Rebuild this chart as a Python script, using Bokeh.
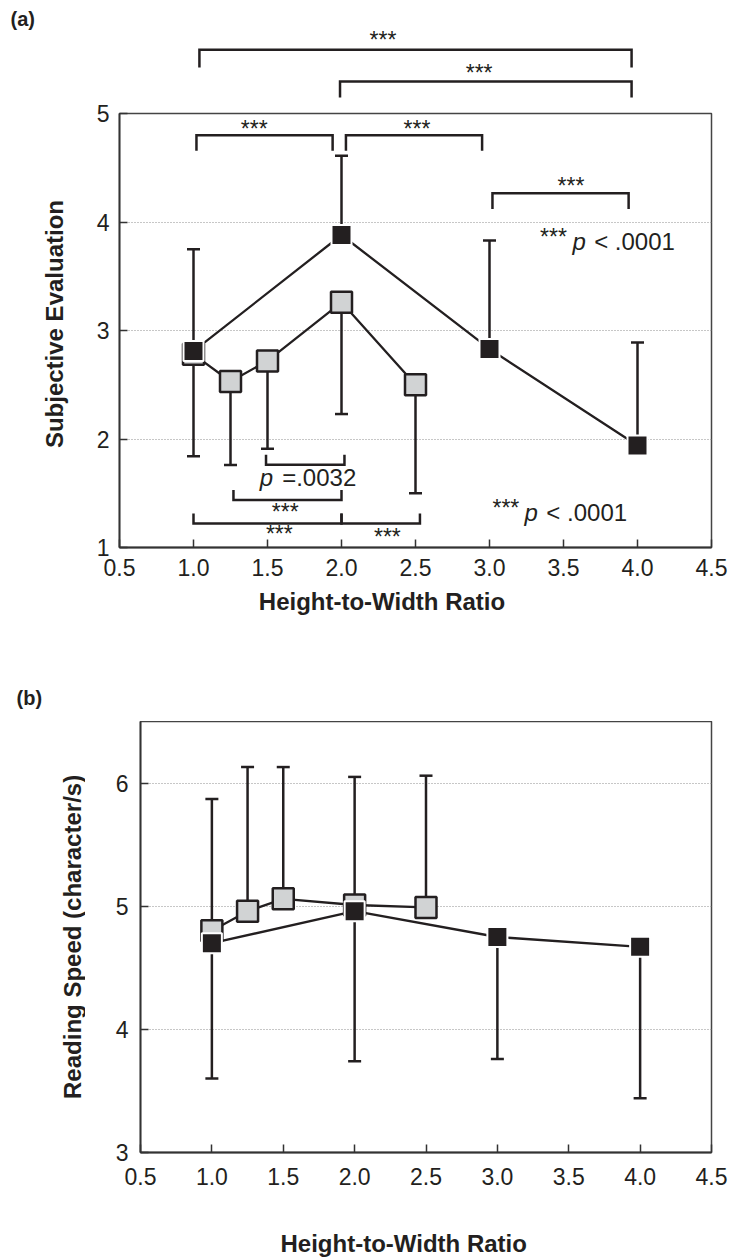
import math
from bokeh.plotting import figure
from bokeh.layouts import column, row
from bokeh.models import (ColumnDataSource, Whisker, TeeHead, Label, FixedTicker,
                          Range1d, PrintfTickFormatter)
from bokeh.embed import file_html
from bokeh.resources import INLINE

# ---------------- data ----------------
ratio_gray = [1.0, 1.25, 1.5, 2.0, 2.5]
ratio_black = [1.0, 2.0, 3.0, 4.0]

# (a) subjective evaluation
eval_gray = [2.78, 2.53, 2.72, 3.26, 2.50]
eval_gray_sd = [0.94, 0.77, 0.81, 1.03, 1.00]
eval_black = [2.81, 3.88, 2.83, 1.94]
eval_black_sd = [0.94, 0.73, 1.00, 0.95]

# (b) reading speed
speed_gray = [4.80, 4.96, 5.06, 5.01, 4.99]
speed_gray_sd = [1.07, 1.17, 1.07, 1.04, 1.07]
speed_black = [4.70, 4.96, 4.75, 4.67]
speed_black_sd = [1.10, 1.22, 0.99, 1.23]

x_ticks = [0.5, 1.0, 1.5, 2.0, 2.5, 3.0, 3.5, 4.0, 4.5]
eval_ticks = [1, 2, 3, 4, 5]
speed_ticks = [3, 4, 5, 6]

# significance brackets in (a): start, end, bar level, leg end
brk_start = [1.04, 1.99, 1.02, 2.03, 3.02, 1.49, 1.27, 1.00, 2.00]
brk_end = [3.96, 3.96, 1.94, 2.95, 3.94, 2.02, 2.00, 2.00, 2.53]
brk_level = [5.587, 5.295, 4.80, 4.80, 4.266, 1.762, 1.437, 1.221, 1.221]
brk_leg = [5.424, 5.147, 4.656, 4.656, 4.119, 1.854, 1.53, 1.313, 1.313]
star_x = [2.28, 2.93, 1.41, 2.51, 3.55, 1.62, 1.58, 2.31]
star_y = [5.682, 5.373, 4.857, 4.857, 4.336, 1.328, 1.124, 1.099]

# ---------------- style ----------------
FONT = "Liberation Sans"
INK = "#231f20"
GRAY = "#d1d3d4"
AX = "#333333"
PX_X = 148.0      # px per x unit in panel (a)
PX_Y = 108.5      # px per y unit in panel (a)
ROT_SHIFT = 22    # px correction for rotated titles


def strip(width, height, xr, yr):
    p = figure(width=width, height=height, x_range=Range1d(*xr), y_range=Range1d(*yr),
               x_axis_type=None, y_axis_type=None, output_backend="svg",
               toolbar_location=None, title=None, min_border=0)
    p.outline_line_color = None
    return p


def base_fig(width, height, y0, y1, left, right, top, bottom, yticks, xs_off, ys_off):
    p = figure(width=width, height=height, x_range=Range1d(0.5, 4.5),
               y_range=Range1d(y0, y1), output_backend="svg", toolbar_location=None,
               title=None, min_border_left=left, min_border_right=right,
               min_border_top=top, min_border_bottom=bottom)
    p.outline_line_color = "#444444"
    p.outline_line_width = 1.5
    p.xgrid.visible = False
    p.ygrid.ticker = FixedTicker(ticks=yticks)
    p.ygrid.grid_line_color = "#8f8f8f"
    p.ygrid.grid_line_dash = "1 2"
    p.ygrid.grid_line_width = 1
    xa, ya = p.xaxis[0], p.yaxis[0]
    xa.ticker = FixedTicker(ticks=x_ticks)
    xa.formatter = PrintfTickFormatter(format="%.1f")
    ya.ticker = FixedTicker(ticks=yticks)
    for ax in (xa, ya):
        ax.axis_line_color = AX
        ax.axis_line_width = 1.8
        ax.major_tick_line_color = AX
        ax.major_tick_line_width = 1.5
        ax.major_tick_in = 8
        ax.major_tick_out = 0
        ax.minor_tick_line_color = None
        ax.major_label_text_font = FONT
        ax.major_label_text_font_size = "23px"
        ax.major_label_text_color = INK
    xa.major_label_standoff = xs_off
    ya.major_label_standoff = ys_off
    return p


def label(p, x, y, s, size=24, align="left", style="normal", angle=0.0):
    p.add_layout(Label(x=x, y=y, text=s, text_font=FONT, text_font_size=f"{size}px",
                       text_align=align, text_baseline="middle", text_font_style=style,
                       text_color=INK, angle=angle))


def bars(p, xs, means, sds, up):
    if up:
        src = ColumnDataSource(dict(x=xs, lo=means, hi=[m + s for m, s in zip(means, sds)]))
        w = Whisker(base="x", lower="lo", upper="hi", source=src, line_color=INK, line_width=2.5,
                    lower_head=None,
                    upper_head=TeeHead(size=13, line_color=INK, line_width=2.5))
    else:
        src = ColumnDataSource(dict(x=xs, lo=[m - s for m, s in zip(means, sds)], hi=means))
        w = Whisker(base="x", lower="lo", upper="hi", source=src, line_color=INK, line_width=2.5,
                    upper_head=None,
                    lower_head=TeeHead(size=13, line_color=INK, line_width=2.5))
    p.add_layout(w)


def series(p, gx, gy, bx, by):
    p.line(gx, gy, line_color=INK, line_width=2.3)
    p.line(bx, by, line_color=INK, line_width=2.3)
    p.scatter(gx, gy, marker="square", size=21, fill_color=GRAY, line_color=INK, line_width=2.5)
    p.scatter(bx, by, marker="square", size=20, fill_color=INK, line_color="white", line_width=2)


def brackets(p, idx):
    bx = [[brk_start[i], brk_start[i], brk_end[i], brk_end[i]] for i in idx]
    by = [[brk_leg[i], brk_level[i], brk_level[i], brk_leg[i]] for i in idx]
    p.multi_line(bx, by, line_color=INK, line_width=2.5, line_join="miter")


# ---------------- top strip of (a): outer brackets ----------------
A_LEFT, A_RIGHT = 119, 20
A0_H, A_TOP = 98, 15            # strip height, top border of panel (a)
a0 = strip(731, A0_H, (0.5 - A_LEFT / PX_X, 4.5 + A_RIGHT / PX_X),
           (5 + A_TOP / PX_Y, 5 + (A0_H + A_TOP) / PX_Y))
brackets(a0, [0, 1])
for i in (0, 1):
    label(a0, star_x[i], star_y[i], "***", size=23, align="center")
label(a0, 0.5 + (10 - A_LEFT) / PX_X, 5.871, "(a)", size=20, style="bold")

# ---------------- panel (a) ----------------
YS_W = 85
A_H = 474 + A_TOP
pa = base_fig(731 - YS_W, A_H, 1, 5, A_LEFT - YS_W, A_RIGHT, A_TOP, 40, eval_ticks, 11, 10)
bars(pa, ratio_black, eval_black, eval_black_sd, True)
bars(pa, ratio_gray, eval_gray, eval_gray_sd, False)
series(pa, ratio_gray, eval_gray, ratio_black, eval_black)
brackets(pa, range(2, 9))
for i in range(2, 8):
    label(pa, star_x[i], star_y[i], "***", size=23, align="center")

label(pa, 3.342, 3.862, "***", size=23)
label(pa, 3.561, 3.822, "p", style="italic")
label(pa, 3.707, 3.822, "< .0001")
label(pa, 3.02, 1.363, "***", size=23)
label(pa, 3.236, 1.322, "p", style="italic")
label(pa, 3.384, 1.322, "< .0001")
label(pa, 1.447, 1.648, "p", style="italic")
label(pa, 1.599, 1.648, "=.0032")

sa = strip(YS_W, A_H, (0, YS_W), (0, A_H))
label(sa, 54, A_H - (453 + ROT_SHIFT - A0_H), "Subjective Evaluation", style="bold",
      angle=math.pi / 2)

# ---------------- middle strip: x title of (a) and "(b)" ----------------
M_H = 134
mid = strip(731, M_H, (0, 731), (0, M_H))
label(mid, 258.3, 721 - 600.7, "Height-to-Width Ratio", style="bold")
label(mid, 16, 721 - 697, "(b)", size=20, style="bold")

# ---------------- panel (b) ----------------
pb = base_fig(731 - YS_W, 475, 3, 6.5, 140 - YS_W, 20, 0, 44, speed_ticks, 15, 12)
bars(pb, ratio_gray, speed_gray, speed_gray_sd, True)
bars(pb, ratio_black, speed_black, speed_black_sd, False)
series(pb, ratio_gray, speed_gray, ratio_black, speed_black)

sb = strip(YS_W, 475, (0, YS_W), (0, 475))
label(sb, 72, 1196 - (1115 + ROT_SHIFT), "Reading Speed (character/s)", style="bold",
      angle=math.pi / 2)

# ---------------- bottom strip: x title of (b) ----------------
bot = strip(731, 62, (0, 731), (0, 62))
label(bot, 280, 1258 - 1242.7, "Height-to-Width Ratio", style="bold")

layout = column(a0, row(sa, pa, spacing=0), mid, row(sb, pb, spacing=0), bot, spacing=0)
open("out.html", "w").write(file_html(layout, INLINE))
